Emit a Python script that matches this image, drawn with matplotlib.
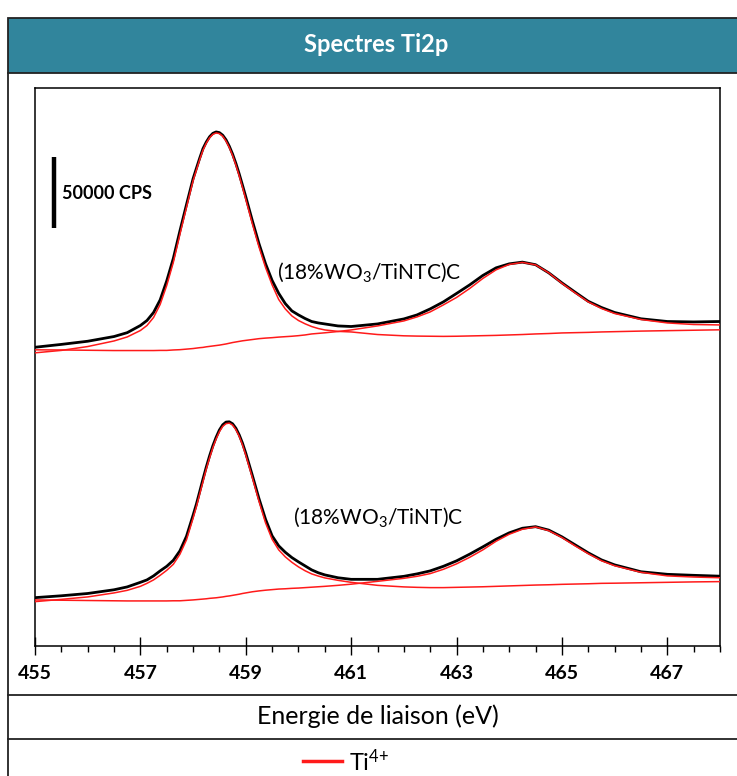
import matplotlib
matplotlib.use('Agg')
import matplotlib.pyplot as plt
from matplotlib.lines import Line2D
from matplotlib.patches import Rectangle
from matplotlib.ticker import MultipleLocator

plt.rcParams['font.family'] = ['Lato', 'DejaVu Sans']
plt.rcParams['mathtext.fontset'] = 'custom'
plt.rcParams['mathtext.rm'] = 'Lato'
plt.rcParams['mathtext.it'] = 'Lato:italic'
plt.rcParams['mathtext.bf'] = 'Lato:bold'

# binding energy grid (eV), shared by all curves
energy_ev = [455.0, 455.5, 456.0, 456.5, 456.75, 457.0, 457.125, 457.25, 457.375, 457.5,
             457.625, 457.75, 457.875, 458.0, 458.0625, 458.125, 458.1875, 458.25, 458.3125, 458.375,
             458.4375, 458.5, 458.5625, 458.625, 458.6875, 458.75, 458.8125, 458.875, 458.9375, 459.0,
             459.125, 459.25, 459.375, 459.5, 459.625, 459.75, 459.875, 460.0, 460.125, 460.25,
             460.375, 460.5, 460.75, 461.0, 461.5, 462.0, 462.25, 462.5, 462.75, 463.0,
             463.25, 463.5, 463.75, 464.0, 464.25, 464.5, 464.75, 465.0, 465.25, 465.5,
             465.75, 466.0, 466.5, 467.0, 467.5, 468.0]

# stacked intensities in kCPS (upper spectrum includes its vertical offset)
top_raw = [208.8, 210.8, 213.0, 216.3, 219.0, 224.0, 227.5, 233.1, 241.9, 255.2,
           270.9, 290.1, 308.5, 326.6, 333.8, 340.9, 347.6, 352.2, 355.9, 358.3,
           359.3, 358.8, 357.0, 353.8, 349.3, 343.8, 337.3, 330.0, 322.1, 314.0,
           297.2, 281.3, 267.2, 255.5, 246.5, 239.3, 234.2, 231.4, 228.9, 226.8,
           225.8, 225.1, 223.7, 223.3, 225.1, 228.6, 231.4, 235.6, 240.5, 246.4,
           252.4, 259.0, 264.3, 267.1, 268.3, 266.5, 260.8, 253.8, 247.3, 240.9,
           236.6, 233.1, 228.7, 226.8, 226.5, 226.8]
top_ti_a = [204.9, 206.6, 209.3, 213.2, 216.0, 220.5, 224.0, 229.6, 238.7, 252.0,
            268.1, 287.7, 306.6, 325.2, 332.5, 339.9, 346.5, 351.4, 355.2, 357.6,
            358.6, 358.1, 356.3, 352.9, 348.4, 342.8, 336.1, 328.7, 320.6, 312.2,
            295.1, 279.0, 264.6, 252.4, 242.2, 235.6, 230.7, 227.5, 225.2, 223.3,
            221.9, 220.9, 219.9, 219.5, 217.7, 216.8, 216.6, 216.5, 216.4, 216.5,
            216.7, 216.9, 217.1, 217.4, 217.7, 218.1, 218.4, 218.8, 219.0, 219.2,
            219.5, 219.7, 220.1, 220.4, 220.7, 221.0]
top_ti_b = [207.0, 206.9, 206.7, 206.5, 206.5, 206.5, 206.5, 206.5, 206.6, 206.6,
            206.9, 207.1, 207.5, 207.9, 208.2, 208.5, 208.7, 209.1, 209.4, 209.7,
            210.0, 210.3, 210.7, 211.1, 211.6, 212.1, 212.5, 212.9, 213.3, 213.6,
            214.2, 214.8, 215.2, 215.5, 215.9, 216.2, 216.5, 216.9, 217.4, 218.1,
            218.5, 218.9, 219.8, 220.9, 223.7, 227.2, 230.0, 233.5, 238.4, 243.6,
            249.9, 256.9, 262.9, 266.7, 268.1, 266.4, 260.8, 253.5, 246.8, 240.5,
            235.9, 232.4, 228.2, 225.8, 224.7, 224.4]

bottom_raw = [33.8, 35.1, 36.7, 39.3, 41.3, 44.5, 46.2, 49.0, 52.5, 55.7,
              59.9, 66.5, 76.7, 91.4, 99.1, 107.8, 116.6, 125.0, 132.8, 139.9,
              145.9, 151.0, 154.6, 156.5, 156.7, 155.3, 152.2, 147.6, 141.8, 134.8,
              119.2, 103.1, 88.6, 77.0, 70.0, 65.5, 61.8, 58.8, 56.0, 53.2,
              51.2, 49.7, 47.7, 46.6, 46.6, 48.7, 50.4, 52.5, 55.7, 59.5,
              64.2, 69.3, 74.6, 79.1, 82.3, 83.4, 81.0, 76.3, 70.7, 65.1,
              60.2, 56.7, 51.9, 50.1, 49.4, 48.8]
bottom_ti_a = [31.0, 32.6, 34.3, 37.1, 38.9, 41.7, 43.8, 46.2, 49.4, 52.9,
               57.1, 64.1, 74.2, 89.3, 97.3, 106.1, 114.8, 123.6, 131.4, 138.6,
               144.7, 149.8, 153.5, 155.4, 155.8, 154.4, 151.2, 146.6, 140.6, 133.4,
               117.6, 101.2, 86.1, 74.6, 67.2, 62.3, 58.5, 55.3, 52.6, 50.4,
               48.9, 47.6, 45.9, 44.5, 42.4, 41.3, 41.0, 40.8, 40.8, 41.0,
               41.2, 41.4, 41.7, 42.0, 42.3, 42.6, 42.8, 43.1, 43.3, 43.5,
               43.8, 43.9, 44.2, 44.5, 44.8, 45.0]
bottom_ti_b = [32.2, 32.0, 31.8, 31.6, 31.5, 31.5, 31.5, 31.5, 31.5, 31.5,
               31.6, 31.6, 31.9, 32.2, 32.4, 32.6, 32.8, 33.0, 33.3, 33.5,
               33.7, 34.0, 34.3, 34.7, 35.0, 35.4, 35.8, 36.2, 36.7, 37.1,
               37.9, 38.5, 39.0, 39.4, 39.8, 40.0, 40.3, 40.5, 40.8, 41.1,
               41.4, 41.7, 42.4, 43.2, 45.2, 47.3, 48.7, 50.6, 53.6, 57.4,
               62.0, 67.2, 73.2, 78.1, 81.6, 83.2, 80.6, 75.8, 70.0, 64.5,
               59.6, 56.1, 51.5, 49.0, 48.2, 47.7]

sample_labels = ['(18%WO$_3$/TiNTC)C', '(18%WO$_3$/TiNT)C']
scale_bar_kcps = 50
x_ticks = [455, 457, 459, 461, 463, 465, 467]

W, H = 737, 776
TEAL = '#31859c'
RED = '#ff1a1a'


def fx(px):
    return px / W


def fy(py):
    return 1 - py / H


fig = plt.figure(figsize=(W / 100, H / 100), dpi=100)

# table-like frame around the chart
fig.add_artist(Rectangle((fx(8), fy(73)), fx(740) - fx(8), (73 - 18) / H,
                         facecolor=TEAL, edgecolor='#222222', linewidth=1.3,
                         transform=fig.transFigure))
fig.add_artist(Line2D([fx(8), fx(8)], [fy(73), fy(780)], color='#222222', linewidth=1.3))
for py in (695, 739):
    fig.add_artist(Line2D([fx(8), fx(740)], [fy(py), fy(py)], color='#222222', linewidth=1.3))

fig.text(fx(376), fy(45), 'Spectres Ti2p', color='white', fontsize=17, fontweight='bold',
         ha='center', va='center')
fig.text(fx(378), fy(716), 'Energie de liaison (eV)', fontsize=18, ha='center', va='center')
fig.add_artist(Line2D([fx(303), fx(342)], [fy(761), fy(761)], color=RED, linewidth=2.5))
fig.text(fx(349), fy(762), 'Ti$^{4{+}}$', fontsize=17, ha='left', va='center')

ax = fig.add_axes([fx(35), fy(646), fx(720) - fx(35), (646 - 88) / H])

line_kw = dict(solid_joinstyle='round', solid_capstyle='round')
ax.plot(energy_ev, top_raw, color='black', linewidth=2.0, zorder=2, **line_kw)
ax.plot(energy_ev, top_ti_a, color=RED, linewidth=1.1, zorder=3, **line_kw)
ax.plot(energy_ev, top_ti_b, color=RED, linewidth=1.1, zorder=3, **line_kw)
ax.plot(energy_ev, bottom_raw, color='black', linewidth=2.0, zorder=2, **line_kw)
ax.plot(energy_ev, bottom_ti_a, color=RED, linewidth=1.1, zorder=3, **line_kw)
ax.plot(energy_ev, bottom_ti_b, color=RED, linewidth=1.1, zorder=3, **line_kw)

ax.text(459.6, 261, sample_labels[0], fontsize=15, ha='left', va='center')
ax.text(459.9, 90, sample_labels[1], fontsize=15, ha='left', va='center')

# intensity scale bar
ax.plot([455.36, 455.36], [292, 292 + scale_bar_kcps], color='black', linewidth=3.2,
        solid_capstyle='butt')
ax.text(455.52, 316, '50000 CPS', fontsize=13, fontweight='bold', ha='left', va='center')

ax.set_xlim(455, 468)
ax.set_ylim(0, 390)
ax.set_yticks([])
ax.set_xticks(x_ticks)
ax.xaxis.set_minor_locator(MultipleLocator(0.5))
ax.tick_params(axis='x', which='major', direction='inout', length=13, width=1.0,
               labelsize=14, pad=7)
ax.tick_params(axis='x', which='minor', direction='out', length=4, width=1.0)
for lbl in ax.get_xticklabels():
    lbl.set_fontweight('bold')
for sp in ax.spines.values():
    sp.set_linewidth(1.1)

fig.savefig('out.png', dpi=100)
